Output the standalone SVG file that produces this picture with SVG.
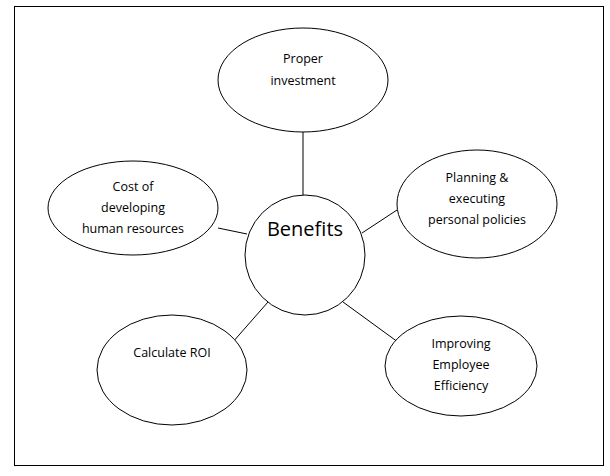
<svg xmlns="http://www.w3.org/2000/svg" width="610" height="476" viewBox="0 0 610 476">
<style>
.s{fill:#fff;stroke:#000;stroke-width:1}
.t{font-family:"Open Sans","Liberation Sans",sans-serif;font-size:12.5px;text-anchor:middle;fill:#000}
line{stroke:#000;stroke-width:1}
</style>
<rect x="0" y="0" width="610" height="476" fill="#fff"/>
<rect x="14.5" y="6.5" width="589" height="459" fill="none" stroke="#000"/>
<g id="connectors">
<line x1="303" y1="132" x2="303" y2="196"/>
<line x1="218" y1="228" x2="247" y2="234"/>
<line x1="362" y1="233" x2="397" y2="210"/>
<line x1="268" y1="302" x2="232" y2="343"/>
<line x1="343" y1="302" x2="402" y2="345"/>
</g>
<g id="benefits"><circle class="s" cx="305" cy="255" r="60"/><text class="t" x="305" y="236" style="font-size:20px">Benefits</text></g>
<g id="proper"><ellipse class="s" cx="303" cy="80" rx="85" ry="52"/><text class="t" x="303" y="63">Proper</text><text class="t" x="303" y="85">investment</text></g>
<g id="cost"><ellipse class="s" cx="133" cy="208" rx="85" ry="47"/><text class="t" x="133" y="191">Cost of</text><text class="t" x="133" y="212">developing</text><text class="t" x="133" y="233">human resources</text></g>
<g id="planning"><ellipse class="s" cx="477" cy="204" rx="80" ry="54"/><text class="t" x="477" y="182">Planning &amp;</text><text class="t" x="477" y="203">executing</text><text class="t" x="477" y="224">personal policies</text></g>
<g id="roi"><ellipse class="s" cx="172" cy="370" rx="75" ry="55"/><text class="t" x="172" y="357">Calculate ROI</text></g>
<g id="improving"><ellipse class="s" cx="461" cy="366" rx="76" ry="50"/><text class="t" x="461" y="348">Improving</text><text class="t" x="461" y="369">Employee</text><text class="t" x="461" y="390">Efficiency</text></g>
</svg>
